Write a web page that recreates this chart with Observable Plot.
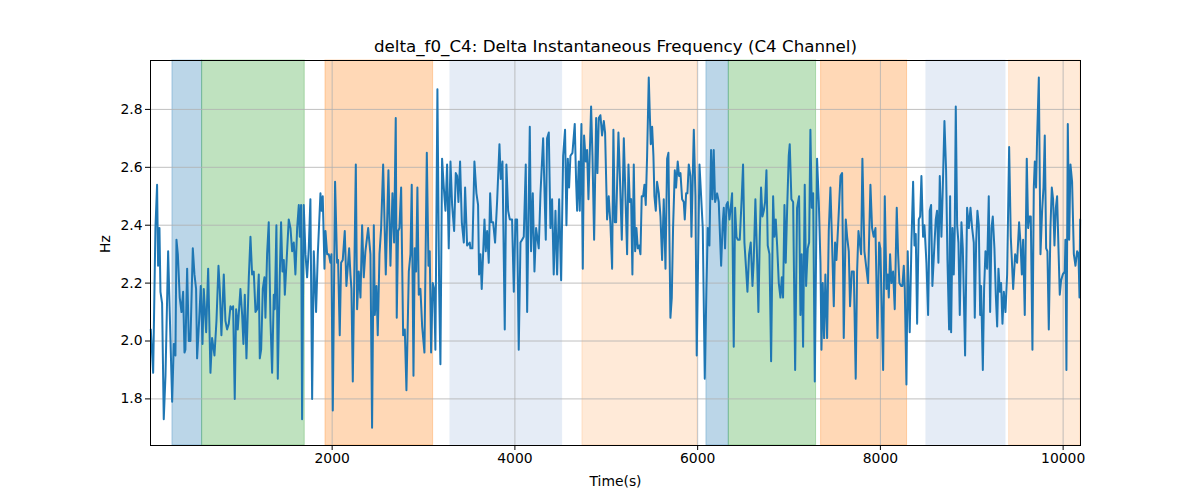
<!DOCTYPE html>
<html><head><meta charset="utf-8">
<script src="https://cdn.jsdelivr.net/npm/d3@7"></script>
<script src="https://cdn.jsdelivr.net/npm/@observablehq/plot@0.6"></script>
<style>html,body{margin:0;padding:0;background:#fff;}</style>
</head><body><div id="chart"></div>
<script>
const title = "delta_f0_C4: Delta Instantaneous Frequency (C4 Channel)";
const xLabel = "Time(s)";
const yLabel = "Hz";
const xTicks = [2000, 4000, 6000, 8000, 10000];
const yTicks = [1.8, 2.0, 2.2, 2.4, 2.6, 2.8];

const t1 = [15,41,66,84,95,110,121,139,157,176,205,230,249,267,285,296,311,332,351,369,384,394,413,431,449,475,493,511,522,544,562,581,595,621,643,668,686,712,734,756,770,788,814,832,850,869,887,905,916,934,949,967,996,1015,1029,1044,1062,1088,1106,1124,1142,1161,1179,1197,1208,1223,1241,1259,1270,1288,1306,1325,1343,1361,1372,1390,1405,1427,1441,1456,1471,1482,1507,1525,1544,1562,1580,1598,1617,1635,1646];
const v1 = [2.04,1.89,2.39,2.54,2.26,2.39,2.17,2.13,1.73,1.88,2.31,2.01,1.79,1.99,1.95,2.35,2.30,2.15,2.10,2.17,1.96,1.97,2.25,2.00,2.00,2.32,2.23,2.18,1.94,2.07,2.19,1.99,2.18,2.03,2.25,1.89,2.01,1.95,2.07,2.26,2.18,2.02,2.23,2.07,2.04,2.06,2.12,2.11,2.12,1.80,2.11,2.04,2.18,2.09,1.99,2.16,1.94,2.22,2.36,2.23,2.24,2.10,2.11,2.23,1.94,1.97,2.18,2.22,2.08,2.30,2.41,2.07,1.89,2.16,2.11,2.40,1.87,2.23,2.41,2.24,2.28,2.16,2.31,2.42,2.39,2.31,2.34,2.23,2.39,2.47,2.36];

const t2 = [1660,1671,1689,1708,1726,1744,1762,1781,1799,1824,1843,1872,1883,1897,1916,1927,1945,1963,1981,1992,2007,2032,2054,2065,2083,2098,2116,2138,2156,2186,2200,2211,2226,2259,2273,2291,2310,2328,2346,2364,2394,2419,2437,2456,2467,2485,2499,2518,2536,2558,2587,2616,2638,2660,2678,2696,2707,2722,2736,2755,2777,2795,2813,2839,2857,2871,2890,2904,2919,2933,2948,2966,2985,3010,3036,3054,3068,3083,3101,3116,3130,3152,3171,3185,3203,3222,3240,3258,3276,3295,3313,3335,3353,3368,3382,3400,3419,3441,3455,3477,3506];
const v2 = [2.47,1.73,2.47,2.30,2.22,2.32,2.49,1.80,2.31,2.10,2.30,2.51,2.45,2.50,2.25,2.38,2.30,2.30,2.27,2.30,1.76,2.55,2.27,2.28,2.02,2.27,2.28,2.38,2.19,2.32,2.23,2.18,1.86,2.61,2.11,2.24,2.15,2.40,2.22,2.31,2.39,2.30,1.70,2.40,2.09,2.19,2.02,2.30,2.39,2.61,2.23,2.59,2.26,2.51,2.34,2.77,2.08,2.38,2.39,2.53,2.02,2.04,1.83,2.24,2.30,2.54,1.88,2.32,2.24,2.53,2.16,2.18,2.05,1.96,2.65,2.26,2.31,1.96,2.20,2.18,1.97,2.87,2.18,1.92,2.63,2.53,2.45,2.61,2.32,2.62,2.47,2.38,2.58,2.57,2.48,2.62,2.41,2.34,2.53,2.33,2.34];

const t3 = [3513,3535,3557,3579,3597,3608,3623,3637,3652,3667,3681,3696,3714,3729,3743,3762,3783,3805,3831,3845,3864,3889,3907,3926,3944,3969,3988,4006,4024,4042,4061,4079,4097,4119,4134,4148,4163,4177,4196,4214,4232,4261,4280,4309,4338,4352,4371,4389,4407,4425,4444,4462,4484,4506,4528,4549,4564,4579,4593,4608,4630,4655,4670,4681,4699,4710,4728,4743,4757,4776,4790,4805,4834,4849,4867,4889,4903,4918,4936,4954,4973,4987,5009,5027,5046,5064,5078,5093,5108,5133,5148,5170,5192,5210,5228,5243,5257];
const v3 = [2.32,2.32,2.62,2.51,2.47,2.23,2.30,2.18,2.30,2.42,2.31,2.38,2.27,2.51,2.41,2.41,2.34,2.48,2.68,2.56,2.62,2.04,2.61,2.45,2.42,2.42,2.17,2.42,2.42,1.97,2.34,2.35,2.36,2.61,2.10,2.41,2.74,2.31,2.51,2.24,2.39,2.32,2.51,2.70,2.35,2.70,2.72,2.39,2.49,2.23,2.45,2.23,2.49,2.21,2.64,2.73,2.40,2.63,2.53,2.64,2.65,2.75,2.55,2.45,2.62,2.45,2.75,2.25,2.71,2.62,2.66,2.49,2.81,2.64,2.35,2.77,2.58,2.77,2.78,2.71,2.76,2.72,2.42,2.50,2.40,2.25,2.73,2.41,2.41,2.72,2.58,2.35,2.70,2.50,2.30,2.61,2.48];

const t4 = [5272,5286,5301,5316,5330,5345,5359,5374,5388,5403,5418,5432,5447,5465,5476,5487,5502,5516,5527,5542,5556,5575,5593,5611,5629,5648,5666,5680,5702,5717,5731,5750,5764,5782,5797,5812,5830,5848,5859,5874,5888,5903,5921,5932,5958,5976,5990,6020,6038,6056,6078,6096,6111,6129,6147,6162,6176,6191,6213,6231,6257,6275,6286,6300,6315,6330,6348,6362,6377,6395,6410,6425,6439,6461,6483,6497,6512,6530,6545,6563,6581,6600,6614,6632,6651,6665,6680,6694,6709,6724,6738,6753,6767,6786,6804,6826,6840,6855,6870,6888,6906,6921,6935,6950,6964,6979,6997];
const v4 = [2.49,2.23,2.61,2.31,2.39,2.32,2.33,2.30,2.50,2.50,2.54,2.47,2.64,2.91,2.79,2.68,2.74,2.64,2.50,2.45,2.55,2.51,2.43,2.28,2.49,2.25,2.63,2.65,2.08,2.15,2.39,2.59,2.53,2.62,2.57,2.58,2.49,2.48,2.42,2.51,2.51,2.61,2.57,2.36,2.73,2.50,1.95,2.61,2.50,2.39,1.87,2.18,2.39,2.33,2.66,2.49,2.66,2.48,2.51,2.48,2.26,2.41,2.46,2.32,2.47,2.48,2.42,2.46,2.51,1.98,2.46,2.36,2.35,2.35,2.50,2.61,2.34,2.25,2.17,2.30,2.34,2.19,2.28,2.49,2.28,2.10,2.36,2.53,2.43,2.45,2.48,2.59,2.33,2.30,1.93,2.50,2.36,2.42,2.33,2.20,2.15,2.22,2.15,2.47,2.27,2.45,2.64];

const t5 = [7008,7026,7045,7067,7088,7110,7125,7139,7154,7172,7187,7205,7220,7234,7249,7264,7282,7307,7326,7344,7355,7369,7384,7398,7417,7435,7453,7471,7490,7504,7519,7541,7563,7581,7599,7621,7636,7654,7668,7687,7709,7730,7745,7760,7774,7789,7803,7825,7847,7865,7891,7909,7927,7946,7968,7986,8000,8015,8030,8048,8066,8081,8092,8106,8121,8139,8157,8179,8194,8208,8227,8241,8256,8267,8285,8299,8321,8340,8358,8373,8387,8402,8420,8435,8449,8467,8482,8504,8522,8540,8555,8569,8591,8606,8620,8635,8650,8668,8683,8701,8719,8734,8752,8763];
const v5 = [2.68,2.49,2.48,1.90,2.46,2.50,2.09,2.30,1.98,2.54,2.19,2.32,2.34,2.73,2.46,2.51,1.86,2.63,2.48,2.27,1.97,2.20,2.01,2.23,2.01,2.38,2.53,2.34,2.12,2.34,2.28,2.42,2.57,2.58,2.01,2.42,2.36,2.31,2.12,2.24,2.24,1.87,2.24,2.38,2.34,2.30,2.63,2.31,2.25,2.20,2.54,2.39,2.36,2.39,2.01,2.34,2.32,2.11,1.90,2.50,2.18,2.23,2.15,2.30,2.20,2.24,2.11,2.46,2.30,2.20,2.19,2.19,2.26,2.18,1.85,2.31,2.03,2.34,2.55,2.33,2.37,2.06,2.42,2.43,2.57,2.36,2.40,2.27,2.09,2.45,2.47,2.19,2.33,2.42,2.45,2.27,2.57,2.36,2.53,2.76,2.59,2.28,2.04,2.50];

const t6 = [8774,8789,8803,8814,8825,8840,8854,8869,8887,8902,8927,8949,8968,8986,9004,9022,9033,9048,9062,9077,9092,9102,9121,9135,9150,9168,9186,9201,9216,9230,9248,9263,9278,9292,9307,9321,9336,9351,9369,9387,9409,9427,9453,9475,9496,9518,9533,9548,9562,9580,9602,9617,9631,9646,9664,9679,9690,9704,9715,9734,9752,9770,9785,9799,9814,9828,9843,9861,9876,9890,9905,9920,9934,9949,9963,9978,9996,10018,10025,10036,10051,10066,10080,10098,10117,10135,10153,10168,10179,10186];
const v6 = [2.03,2.39,2.23,2.39,2.81,2.40,2.34,2.09,2.41,2.32,1.95,2.46,2.39,2.46,2.39,2.34,2.08,2.34,2.45,2.40,2.09,2.19,1.90,2.18,2.31,2.25,2.50,2.10,2.39,2.43,2.32,2.16,2.05,2.25,2.17,2.20,2.06,2.17,2.10,2.23,2.67,2.36,2.18,2.30,2.27,2.41,2.34,2.23,2.35,2.09,2.63,2.39,2.43,2.43,1.97,2.53,2.62,2.53,2.70,2.91,2.30,2.45,2.53,2.71,2.32,2.31,2.04,2.39,2.53,2.49,2.33,2.46,2.50,2.32,2.16,2.21,2.23,2.24,2.35,1.90,2.75,2.35,2.61,2.55,2.30,2.26,2.31,2.30,2.15,2.42];

const spanStart = [252, 577, 1927, 3295, 4739, 6096, 6341, 7351, 8504, 9409];
const spanEnd   = [577, 1700, 3105, 4517, 5994, 6341, 7296, 8292, 9369, 10190];
const spanKind  = ["blue","green","orange","lightblue","lightorange","blue","green","orange","lightblue","lightorange"];
const spanStyle = {
  blue: {fill: "#1f77b4", opacity: 0.3},
  green: {fill: "#2ca02c", opacity: 0.3},
  orange: {fill: "#ff7f0e", opacity: 0.3},
  lightblue: {fill: "#e5ecf6", opacity: 1},
  lightorange: {fill: "#ff7f0e", opacity: 0.16}
};

const times = [].concat(t1, t2, t3, t4, t5, t6);
const values = [].concat(v1, v2, v3, v4, v5, v6);
const n = Math.min(times.length, values.length);
const data = [];
for (let i = 0; i < n; i++) data.push({t: times[i], v: values[i]});
const spans = spanStart.map((s, i) => ({x1: s, x2: spanEnd[i], kind: spanKind[i]}));

const spanMarks = Object.keys(spanStyle).map(k =>
  Plot.rect(spans.filter(d => d.kind === k), {
    x1: "x1", x2: "x2",
    fill: spanStyle[k].fill, fillOpacity: spanStyle[k].opacity,
    stroke: spanStyle[k].fill, strokeOpacity: spanStyle[k].opacity, strokeWidth: 1
  })
);

const font = "DejaVu Sans, sans-serif";
const chart = Plot.plot({
  width: 1200, height: 500,
  marginLeft: 150, marginRight: 120, marginTop: 60, marginBottom: 55,
  style: {fontFamily: font, fontSize: "13.9px", background: "#fff", color: "#000"},
  x: {domain: [12, 10190], label: null},
  y: {domain: [1.639, 2.969], label: null},
  marks: [
    ...spanMarks,
    Plot.gridX(xTicks, {stroke: "#b0b0b0", strokeOpacity: 1, strokeWidth: 0.8}),
    Plot.gridY(yTicks, {stroke: "#b0b0b0", strokeOpacity: 1, strokeWidth: 0.8}),
    Plot.line(data, {x: "t", y: "v", stroke: "#1f77b4", strokeWidth: 2, strokeLinejoin: "round"}),
    Plot.frame({stroke: "#000", strokeWidth: 1}),
    Plot.axisX(xTicks, {tickSize: 5, tickPadding: 3, tickFormat: d => String(d), fontSize: 13.9, label: null}),
    Plot.axisY(yTicks, {tickSize: 5, tickPadding: 3, tickFormat: d => d.toFixed(1), fontSize: 13.9, label: null}),
    Plot.text([title], {frameAnchor: "top", dy: -14, fontSize: 16.7, fill: "#000", lineAnchor: "middle"}),
    Plot.text([xLabel], {frameAnchor: "bottom", dy: 36, fontSize: 13.9, fill: "#000", lineAnchor: "middle"}),
    Plot.text([yLabel], {frameAnchor: "left", dx: -45, rotate: -90, fontSize: 13.9, fill: "#000", lineAnchor: "middle"})
  ]
});
document.getElementById("chart").appendChild(chart);
</script>
</body></html>
